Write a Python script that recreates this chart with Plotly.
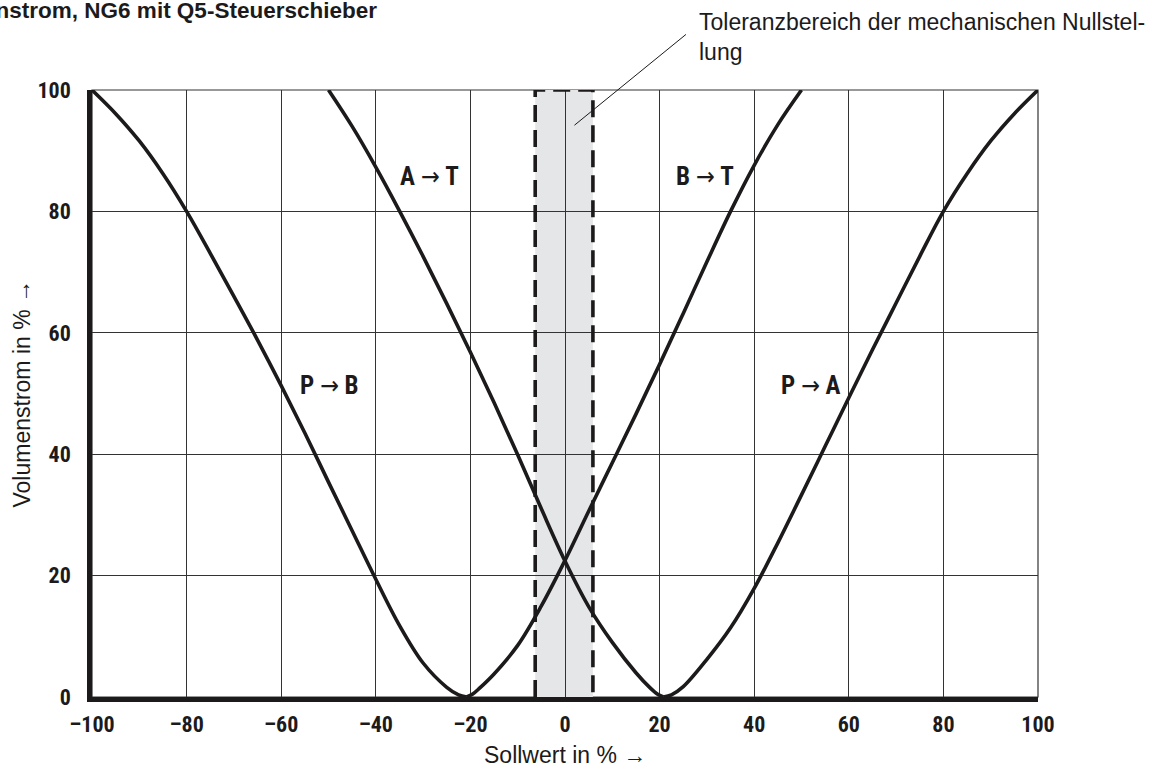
import plotly.graph_objects as go

# Volumenstrom-Kennlinien (Q5-Steuerschieber, NG6)
pb_x = [-100, -95, -90, -85, -80, -75, -70, -65, -60, -55, -50, -45, -40, -35, -30, -25, -22.5, -20.8]
pb_y = [100, 96.1, 91.6, 86.2, 80.0, 73.1, 66.0, 58.8, 51.3, 43.5, 35.4, 27.4, 19.4, 11.8, 5.6, 1.6, 0.35, 0]

at_x = [-50, -45, -40, -35, -30, -25, -20, -15, -10, -5, 0, 5, 10, 15, 18, 19.5, 20.8]
at_y = [100, 94.0, 87.3, 80.1, 72.6, 64.8, 56.8, 48.5, 39.9, 31.0, 22.4, 14.9, 9.0, 4.0, 1.5, 0.5, 0]

bt_x = [-20.8, -19.5, -18, -15, -10, -5, 0, 5, 10, 15, 20, 25, 30, 35, 40, 45, 50]
bt_y = [0, 0.5, 1.5, 3.8, 8.5, 15.0, 22.5, 30.6, 38.6, 46.6, 54.8, 63.2, 71.7, 80.0, 87.6, 94.3, 100]

pa_x = [20.8, 22.5, 25, 30, 35, 40, 45, 50, 55, 60, 65, 70, 75, 80, 85, 90, 95, 100]
pa_y = [0, 0.35, 1.7, 6.2, 11.4, 17.9, 25.4, 33.3, 41.3, 49.3, 57.2, 64.9, 72.6, 80.0, 86.2, 91.6, 96.1, 100]

# Toleranzbereich der mechanischen Nullstellung (Sollwert in %)
tol_band = [-6.3, 5.9]

x_ticks = [-100, -80, -60, -40, -20, 0, 20, 40, 60, 80, 100]
x_tick_text = ["–100", "–80", "–60", "–40", "–20", "0", "20", "40", "60", "80", "100"]
y_ticks = [0, 20, 40, 60, 80, 100]
y_tick_text = ["0", "20", "40", "60", "80", "100"]

curve_labels = ["A → T", "B → T", "P → B", "P → A"]
curve_label_x = [-28.6, 29.5, -49.7, 52.1]
curve_label_y = [85.7, 85.7, 51.4, 51.4]

NARROW = "Liberation Sans Narrow, Roboto Condensed, DejaVu Sans Condensed, Arial Narrow, sans-serif"
SANS = "Liberation Sans, Arial, Helvetica, sans-serif"
INK = "#1c1a1b"
GRID = "#333333"

fig = go.Figure()

curve_style = dict(color=INK, width=3.6)
for xs, ys in [(pb_x, pb_y), (at_x, at_y), (bt_x, bt_y), (pa_x, pa_y)]:
    fig.add_trace(go.Scatter(x=xs, y=ys, mode="lines",
                             line=dict(shape="spline", smoothing=1.0, **curve_style),
                             hoverinfo="skip", showlegend=False))

# dashed outline of the tolerance band
t0, t1 = tol_band
fig.add_trace(go.Scatter(x=[t0, t0, t1, t1], y=[0, 100, 100, 0], mode="lines",
                         line=dict(color=INK, width=3.6, dash="17px,8px"),
                         hoverinfo="skip", showlegend=False))

# grey fill of the tolerance band, drawn beneath the grid
fig.add_shape(type="rect", xref="x", yref="y", x0=t0, x1=t1, y0=0, y1=100,
              fillcolor="#e5e6e8", line=dict(width=0), layer="below")

# thin outer frame (top / right)
fig.add_shape(type="rect", xref="paper", yref="paper", x0=0, x1=1, y0=0, y1=1,
              line=dict(color=GRID, width=1.2), layer="below")

annotations = []
for txt, lx, ly in zip(curve_labels, curve_label_x, curve_label_y):
    a, b = txt.split(" → ")
    annotations.append(dict(x=lx, y=ly, xref="x", yref="y", showarrow=False,
                            xanchor="center", yanchor="middle",
                            text=f"<b>{a}</b> → <b>{b}</b>",
                            font=dict(family=NARROW, size=25, color=INK)))

# leader line to the band note
annotations.append(dict(x=2.0, y=94.2, xref="x", yref="y", text="", showarrow=True,
                        arrowhead=0, arrowwidth=1, arrowcolor=INK, ax=113, ay=-92))
annotations.append(dict(x=(697 - 92) / 946, y=1.088, xref="paper", yref="paper",
                        xanchor="left", yanchor="middle", align="left", showarrow=False,
                        text="Toleranzbereich der mechanischen Nullstel-<br>lung",
                        font=dict(family=SANS, size=23, color=INK)))
# chart heading
annotations.append(dict(x=(379 - 92) / 946, y=1.131, xref="paper", yref="paper",
                        xanchor="right", yanchor="middle", showarrow=False,
                        text="<b>Volumenstrom, NG6 mit Q5-Steuerschieber</b>",
                        font=dict(family=SANS, size=22.5, color=INK)))
# axis titles
annotations.append(dict(x=0.5, y=(697 - 755) / 607, xref="paper", yref="paper",
                        xanchor="center", yanchor="middle",
                        showarrow=False, text="Sollwert in % →",
                        font=dict(family=SANS, size=23, color=INK)))
annotations.append(dict(x=(21 - 92) / 946, y=0.5, xref="paper", yref="paper",
                        xanchor="center", yanchor="middle",
                        showarrow=False, textangle=-90, text="Volumenstrom in % →",
                        font=dict(family=SANS, size=23, color=INK)))

fig.update_layout(
    width=1162, height=774,
    margin=dict(l=92, r=124, t=90, b=77),
    paper_bgcolor="white", plot_bgcolor="white",
    annotations=annotations,
    showlegend=False,
)

fig.update_xaxes(range=[-100, 100], tickvals=x_ticks, ticktext=x_tick_text,
                 showgrid=True, gridcolor=GRID, gridwidth=1.2, zeroline=False,
                 showline=True, linecolor=INK, linewidth=4.5,
                 ticks="outside", ticklen=0, ticklabelstandoff=4,
                 tickfont=dict(family=NARROW, size=22, color=INK, weight="bold"))
fig.update_yaxes(range=[0, 100], tickvals=y_ticks, ticktext=y_tick_text,
                 showgrid=True, gridcolor=GRID, gridwidth=1.2, zeroline=False,
                 showline=True, linecolor=INK, linewidth=4.5,
                 ticks="outside", ticklen=0, ticklabelstandoff=12,
                 tickfont=dict(family=NARROW, size=22, color=INK, weight="bold"))

fig.write_html("out.html")
